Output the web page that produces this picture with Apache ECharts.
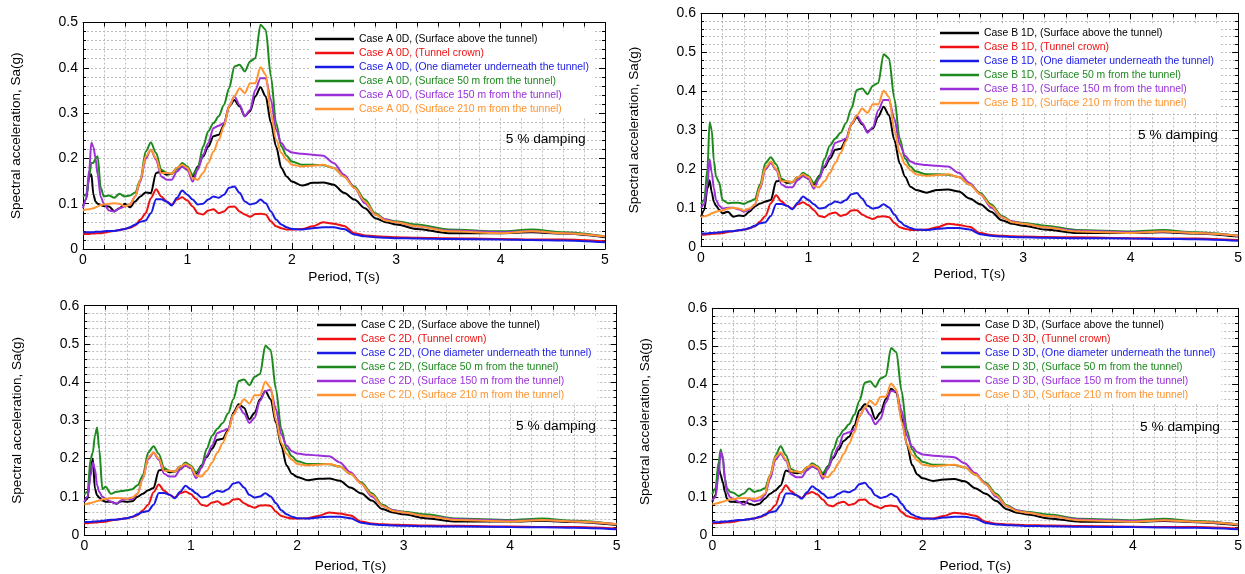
<!DOCTYPE html>
<html>
<head>
<meta charset="utf-8">
<script src="https://cdn.jsdelivr.net/npm/echarts@6/dist/echarts.min.js"></script>
<style>html,body{margin:0;padding:0;background:#fff;}#chart{width:1245px;height:574px;}</style>
</head>
<body>
<div id="chart"></div>
<script>
// ---------- DATA ----------
const periods = [0,0.03,0.06,0.08,0.1,0.12,0.14,0.17,0.2,0.25,0.3,0.35,0.4,0.45,0.5,0.55,0.6,0.65,0.7,0.75,0.8,0.85,0.9,0.95,1.0,1.05,1.1,1.15,1.2,1.25,1.3,1.35,1.4,1.45,1.5,1.55,1.6,1.65,1.7,1.75,1.8,1.85,1.9,1.95,2.0,2.1,2.2,2.3,2.4,2.5,2.6,2.7,2.8,2.9,3.0,3.2,3.5,4.0,4.3,4.6,5.0];

const caseNames = ['Case A 0D', 'Case B 1D', 'Case C 2D', 'Case D 3D'];
const locationNames = ['(Surface above the tunnel)', '(Tunnel crown)', '(One diameter underneath the tunnel)', '(Surface 50 m from the tunnel)', '(Surface 150 m from the tunnel)', '(Surface 210 m from the tunnel)'];
const yMaxByCase = [0.5, 0.6, 0.6, 0.6];
const dampingText = '5 % damping';
const xAxisTitle = 'Period, T(s)';
const yAxisTitle = 'Spectral acceleration, Sa(g)';

// Case A 0D
const A_surfaceAbove = [0.095,0.11,0.16,0.165,0.12,0.105,0.1,0.097,0.095,0.094,0.083,0.09,0.1,0.092,0.105,0.116,0.125,0.123,0.168,0.171,0.164,0.166,0.179,0.182,0.175,0.16,0.182,0.204,0.226,0.249,0.252,0.274,0.315,0.329,0.315,0.293,0.304,0.337,0.357,0.337,0.278,0.226,0.179,0.16,0.149,0.14,0.146,0.147,0.142,0.124,0.109,0.09,0.068,0.059,0.054,0.044,0.035,0.035,0.037,0.034,0.026];
const A_crown = [0.033,0.033,0.033,0.034,0.034,0.034,0.035,0.035,0.036,0.038,0.04,0.042,0.044,0.047,0.052,0.065,0.079,0.112,0.132,0.116,0.105,0.098,0.109,0.114,0.107,0.094,0.079,0.076,0.085,0.088,0.079,0.083,0.093,0.094,0.083,0.076,0.071,0.077,0.078,0.076,0.061,0.05,0.046,0.043,0.043,0.044,0.05,0.059,0.056,0.051,0.035,0.03,0.028,0.027,0.026,0.025,0.024,0.022,0.021,0.021,0.017];
const A_below = [0.037,0.037,0.037,0.037,0.037,0.038,0.038,0.038,0.039,0.04,0.04,0.042,0.044,0.048,0.054,0.06,0.063,0.079,0.11,0.11,0.105,0.096,0.113,0.129,0.12,0.109,0.098,0.1,0.109,0.116,0.113,0.12,0.135,0.138,0.124,0.105,0.098,0.101,0.109,0.101,0.083,0.065,0.054,0.048,0.044,0.043,0.046,0.048,0.048,0.044,0.032,0.028,0.026,0.025,0.024,0.023,0.022,0.021,0.02,0.019,0.015];
const A_50m = [0.116,0.12,0.16,0.19,0.19,0.2,0.205,0.135,0.116,0.118,0.113,0.122,0.116,0.118,0.125,0.153,0.215,0.235,0.212,0.175,0.168,0.166,0.176,0.19,0.182,0.164,0.179,0.226,0.26,0.278,0.293,0.318,0.355,0.403,0.407,0.392,0.414,0.421,0.495,0.484,0.381,0.278,0.226,0.206,0.193,0.186,0.186,0.185,0.179,0.16,0.138,0.109,0.079,0.065,0.061,0.054,0.043,0.039,0.043,0.037,0.028];
const A_150m = [0.09,0.11,0.175,0.235,0.225,0.2,0.165,0.115,0.1,0.085,0.083,0.09,0.094,0.098,0.116,0.149,0.199,0.219,0.197,0.16,0.153,0.153,0.171,0.182,0.175,0.149,0.175,0.208,0.234,0.267,0.272,0.278,0.315,0.337,0.318,0.293,0.307,0.351,0.377,0.377,0.329,0.263,0.234,0.219,0.213,0.21,0.208,0.206,0.19,0.164,0.135,0.101,0.076,0.065,0.059,0.05,0.041,0.037,0.039,0.035,0.028];
const A_210m = [0.085,0.087,0.088,0.089,0.09,0.092,0.094,0.097,0.098,0.1,0.101,0.1,0.094,0.098,0.116,0.153,0.204,0.219,0.2,0.168,0.168,0.166,0.179,0.186,0.179,0.156,0.153,0.168,0.19,0.215,0.241,0.271,0.315,0.337,0.355,0.344,0.366,0.366,0.401,0.385,0.3,0.241,0.212,0.197,0.186,0.182,0.184,0.186,0.179,0.16,0.135,0.105,0.076,0.063,0.059,0.05,0.039,0.035,0.039,0.035,0.028];

// Case B 1D
const B_surfaceAbove = [0.077,0.094,0.15,0.171,0.14,0.115,0.105,0.095,0.086,0.09,0.077,0.08,0.079,0.09,0.103,0.111,0.116,0.12,0.168,0.171,0.164,0.166,0.179,0.182,0.175,0.16,0.182,0.204,0.226,0.249,0.252,0.274,0.315,0.333,0.315,0.296,0.304,0.334,0.36,0.338,0.274,0.214,0.18,0.154,0.146,0.139,0.146,0.147,0.142,0.124,0.109,0.09,0.068,0.059,0.054,0.044,0.035,0.035,0.037,0.034,0.026];
const B_crown = [0.031,0.031,0.032,0.032,0.033,0.033,0.034,0.034,0.035,0.038,0.04,0.042,0.044,0.047,0.052,0.065,0.079,0.112,0.132,0.116,0.105,0.098,0.109,0.114,0.107,0.094,0.079,0.076,0.085,0.088,0.079,0.083,0.093,0.094,0.083,0.076,0.071,0.077,0.078,0.076,0.061,0.05,0.046,0.043,0.043,0.044,0.05,0.059,0.056,0.051,0.035,0.03,0.028,0.027,0.026,0.025,0.024,0.022,0.021,0.021,0.017];
const B_below = [0.034,0.034,0.034,0.035,0.035,0.036,0.036,0.037,0.038,0.04,0.04,0.042,0.044,0.048,0.054,0.06,0.063,0.079,0.11,0.11,0.105,0.096,0.113,0.129,0.12,0.109,0.098,0.1,0.109,0.116,0.113,0.12,0.135,0.138,0.124,0.105,0.098,0.101,0.109,0.101,0.083,0.065,0.054,0.048,0.044,0.043,0.046,0.048,0.048,0.044,0.032,0.028,0.026,0.025,0.024,0.023,0.022,0.021,0.02,0.019,0.015];
const B_50m = [0.11,0.12,0.2,0.32,0.3,0.22,0.18,0.165,0.12,0.112,0.113,0.113,0.11,0.116,0.122,0.16,0.215,0.23,0.212,0.175,0.168,0.166,0.176,0.19,0.182,0.164,0.179,0.226,0.26,0.278,0.293,0.318,0.355,0.403,0.407,0.392,0.414,0.421,0.495,0.484,0.381,0.278,0.226,0.206,0.193,0.186,0.186,0.185,0.179,0.16,0.138,0.109,0.079,0.065,0.061,0.054,0.043,0.039,0.043,0.037,0.028];
const B_150m = [0.1,0.11,0.16,0.225,0.19,0.15,0.12,0.105,0.098,0.1,0.1,0.096,0.09,0.095,0.108,0.149,0.199,0.215,0.197,0.16,0.153,0.153,0.171,0.182,0.175,0.149,0.175,0.208,0.234,0.267,0.272,0.278,0.315,0.337,0.318,0.293,0.307,0.351,0.377,0.377,0.329,0.263,0.234,0.219,0.213,0.21,0.208,0.206,0.19,0.164,0.135,0.101,0.076,0.065,0.059,0.05,0.041,0.037,0.039,0.035,0.028];
const B_210m = [0.077,0.078,0.08,0.083,0.086,0.088,0.09,0.092,0.093,0.098,0.1,0.098,0.093,0.098,0.108,0.153,0.204,0.219,0.2,0.168,0.168,0.166,0.179,0.186,0.179,0.156,0.153,0.168,0.19,0.215,0.241,0.271,0.315,0.337,0.355,0.344,0.366,0.366,0.401,0.385,0.3,0.241,0.212,0.197,0.186,0.182,0.184,0.186,0.179,0.16,0.135,0.105,0.076,0.063,0.059,0.05,0.039,0.035,0.039,0.035,0.028];

// Case C 2D
const C_surfaceAbove = [0.087,0.095,0.169,0.2,0.121,0.104,0.098,0.09,0.087,0.087,0.082,0.088,0.087,0.088,0.1,0.108,0.117,0.123,0.169,0.171,0.164,0.166,0.179,0.182,0.175,0.16,0.182,0.204,0.226,0.249,0.252,0.274,0.32,0.342,0.333,0.303,0.32,0.355,0.377,0.355,0.294,0.234,0.182,0.16,0.152,0.143,0.147,0.148,0.142,0.124,0.109,0.09,0.068,0.059,0.054,0.044,0.035,0.035,0.037,0.034,0.026];
const C_crown = [0.031,0.031,0.032,0.032,0.033,0.033,0.034,0.034,0.035,0.038,0.04,0.042,0.044,0.047,0.052,0.065,0.079,0.112,0.132,0.116,0.105,0.098,0.109,0.114,0.107,0.094,0.079,0.076,0.085,0.088,0.079,0.083,0.093,0.094,0.083,0.076,0.071,0.077,0.078,0.076,0.061,0.05,0.046,0.043,0.043,0.044,0.05,0.059,0.056,0.051,0.035,0.03,0.028,0.027,0.026,0.025,0.024,0.022,0.021,0.021,0.017];
const C_below = [0.034,0.034,0.034,0.035,0.035,0.036,0.036,0.037,0.038,0.04,0.04,0.042,0.044,0.048,0.054,0.06,0.063,0.079,0.11,0.11,0.105,0.096,0.113,0.129,0.12,0.109,0.098,0.1,0.109,0.116,0.113,0.12,0.135,0.138,0.124,0.105,0.098,0.101,0.109,0.101,0.083,0.065,0.054,0.048,0.044,0.043,0.046,0.048,0.048,0.044,0.032,0.028,0.026,0.025,0.024,0.023,0.022,0.021,0.02,0.019,0.015];
const C_50m = [0.106,0.113,0.2,0.216,0.26,0.281,0.225,0.12,0.126,0.108,0.113,0.115,0.117,0.12,0.13,0.156,0.216,0.232,0.212,0.175,0.168,0.166,0.176,0.19,0.182,0.164,0.179,0.226,0.26,0.278,0.293,0.318,0.355,0.403,0.407,0.392,0.414,0.421,0.495,0.484,0.381,0.278,0.226,0.206,0.193,0.186,0.186,0.185,0.179,0.16,0.138,0.109,0.079,0.065,0.061,0.054,0.043,0.039,0.043,0.037,0.028];
const C_150m = [0.087,0.1,0.156,0.19,0.173,0.13,0.113,0.1,0.095,0.087,0.082,0.091,0.095,0.094,0.108,0.149,0.199,0.215,0.197,0.16,0.153,0.153,0.171,0.182,0.175,0.149,0.175,0.208,0.234,0.267,0.272,0.278,0.315,0.337,0.318,0.293,0.307,0.351,0.377,0.38,0.329,0.263,0.234,0.219,0.213,0.21,0.208,0.206,0.19,0.164,0.135,0.101,0.076,0.065,0.059,0.05,0.041,0.037,0.039,0.035,0.028];
const C_210m = [0.08,0.082,0.084,0.085,0.087,0.089,0.09,0.093,0.095,0.096,0.097,0.096,0.095,0.098,0.108,0.147,0.203,0.216,0.2,0.168,0.168,0.166,0.179,0.186,0.179,0.156,0.153,0.168,0.19,0.215,0.241,0.271,0.315,0.337,0.355,0.344,0.366,0.366,0.401,0.385,0.3,0.241,0.212,0.197,0.186,0.182,0.184,0.186,0.179,0.16,0.135,0.105,0.076,0.063,0.059,0.05,0.039,0.035,0.039,0.035,0.028];

// Case D 3D
const D_surfaceAbove = [0.088,0.105,0.18,0.158,0.14,0.114,0.096,0.088,0.088,0.087,0.088,0.083,0.079,0.083,0.096,0.109,0.118,0.131,0.171,0.166,0.164,0.166,0.179,0.182,0.175,0.16,0.182,0.204,0.226,0.249,0.26,0.29,0.33,0.346,0.34,0.307,0.324,0.36,0.387,0.377,0.31,0.24,0.185,0.16,0.15,0.143,0.147,0.148,0.142,0.124,0.109,0.09,0.068,0.059,0.054,0.044,0.035,0.035,0.037,0.034,0.026];
const D_crown = [0.031,0.031,0.032,0.032,0.033,0.033,0.034,0.034,0.035,0.038,0.04,0.042,0.044,0.047,0.052,0.065,0.079,0.112,0.132,0.116,0.105,0.098,0.109,0.114,0.107,0.094,0.079,0.076,0.085,0.088,0.079,0.083,0.093,0.094,0.083,0.076,0.071,0.077,0.078,0.076,0.061,0.05,0.046,0.043,0.043,0.044,0.05,0.059,0.056,0.051,0.035,0.03,0.028,0.027,0.026,0.025,0.024,0.022,0.021,0.021,0.017];
const D_below = [0.034,0.034,0.034,0.035,0.035,0.036,0.036,0.037,0.038,0.04,0.04,0.042,0.044,0.048,0.054,0.06,0.063,0.079,0.11,0.11,0.105,0.096,0.113,0.129,0.12,0.109,0.098,0.1,0.109,0.116,0.113,0.12,0.135,0.138,0.124,0.105,0.098,0.101,0.109,0.101,0.083,0.065,0.054,0.048,0.044,0.043,0.046,0.048,0.048,0.044,0.032,0.028,0.026,0.025,0.024,0.023,0.022,0.021,0.02,0.019,0.015];
const D_50m = [0.108,0.123,0.193,0.226,0.2,0.149,0.123,0.114,0.112,0.103,0.11,0.123,0.114,0.118,0.124,0.158,0.21,0.235,0.212,0.175,0.168,0.166,0.176,0.19,0.182,0.164,0.179,0.226,0.26,0.278,0.293,0.318,0.355,0.403,0.407,0.392,0.414,0.421,0.495,0.484,0.381,0.278,0.226,0.206,0.193,0.186,0.186,0.185,0.179,0.16,0.138,0.109,0.079,0.065,0.061,0.054,0.043,0.039,0.043,0.037,0.028];
const D_150m = [0.092,0.1,0.158,0.219,0.21,0.149,0.114,0.1,0.095,0.088,0.08,0.095,0.089,0.092,0.105,0.149,0.199,0.215,0.197,0.16,0.153,0.153,0.171,0.182,0.175,0.149,0.175,0.208,0.234,0.267,0.272,0.278,0.315,0.337,0.318,0.293,0.307,0.351,0.381,0.38,0.329,0.263,0.234,0.219,0.213,0.21,0.208,0.206,0.19,0.164,0.135,0.101,0.076,0.065,0.059,0.05,0.041,0.037,0.039,0.035,0.028];
const D_210m = [0.081,0.083,0.085,0.087,0.088,0.09,0.092,0.094,0.095,0.097,0.098,0.097,0.095,0.1,0.109,0.158,0.206,0.219,0.2,0.168,0.168,0.166,0.179,0.186,0.179,0.156,0.153,0.168,0.19,0.215,0.241,0.271,0.315,0.337,0.355,0.344,0.366,0.366,0.401,0.385,0.3,0.241,0.212,0.197,0.186,0.182,0.184,0.186,0.179,0.16,0.135,0.105,0.076,0.063,0.059,0.05,0.039,0.035,0.039,0.035,0.028];

const seriesByCase = [
  [A_surfaceAbove, A_crown, A_below, A_50m, A_150m, A_210m],
  [B_surfaceAbove, B_crown, B_below, B_50m, B_150m, B_210m],
  [C_surfaceAbove, C_crown, C_below, C_50m, C_150m, C_210m],
  [D_surfaceAbove, D_crown, D_below, D_50m, D_150m, D_210m]
];

// ---------- STYLE / LAYOUT ----------
const colors = ['#000000', '#ee1111', '#1a1ae6', '#1e8a1e', '#9b30d9', '#ff9430'];
const FONT = '"Liberation Sans", Arial, Helvetica, sans-serif';
const grids = [
  {left: 83, top: 22.5, width: 522, height: 226.5},
  {left: 701, top: 13.3, width: 540, height: 233.4},
  {left: 84.3, top: 305.7, width: 532.4, height: 231},
  {left: 712.3, top: 308.3, width: 529.4, height: 228.4}
];
const legendPos = [
  {left: 311, top: 31},
  {left: 936, top: 25},
  {left: 313, top: 317},
  {left: 937, top: 317}
];
const xNameGap = [21, 21, 24, 24];
const dampingPos = [[545.7, 139.3], [1178, 135], [556, 426], [1180, 427.3]];

const gridLine = {color: '#bdbdbd', width: 1, type: [2, 2]};
const blackLine = {color: '#000', width: 1};

const option = {
  animation: false,
  backgroundColor: '#fff',
  textStyle: {fontFamily: FONT},
  grid: grids.map(g => Object.assign({containLabel: false}, g)),
  xAxis: [], yAxis: [], series: [], legend: [], graphic: []
};

for (let i = 0; i < 4; i++) {
  option.xAxis.push({
    gridIndex: i, type: 'value', min: 0, max: 5, interval: 1, position: 'bottom',
    axisLine: {show: true, onZero: false, lineStyle: blackLine},
    axisTick: {show: true, inside: true, length: 6, lineStyle: blackLine},
    minorTick: {show: true, splitNumber: 5, length: 4, lineStyle: blackLine},
    axisLabel: {show: true, fontSize: 14, color: '#000', margin: 4, fontFamily: FONT},
    splitLine: {show: true, lineStyle: gridLine},
    minorSplitLine: {show: true, lineStyle: gridLine},
    name: xAxisTitle, nameLocation: 'middle', nameGap: xNameGap[i],
    nameTextStyle: {fontSize: 13.7, color: '#000', fontFamily: FONT}
  });
  option.xAxis.push({
    gridIndex: i, type: 'value', min: 0, max: 5, interval: 1, position: 'top',
    axisLine: {show: true, onZero: false, lineStyle: blackLine},
    axisTick: {show: true, inside: true, length: 6, lineStyle: blackLine},
    minorTick: {show: true, splitNumber: 5, length: 4, lineStyle: blackLine},
    axisLabel: {show: false}, splitLine: {show: false}
  });
  option.yAxis.push({
    gridIndex: i, type: 'value', min: 0, max: yMaxByCase[i], interval: 0.1, position: 'left',
    axisLine: {show: true, onZero: false, lineStyle: blackLine},
    axisTick: {show: true, inside: true, length: 6, lineStyle: blackLine},
    minorTick: {show: true, splitNumber: 5, length: 3, lineStyle: blackLine},
    axisLabel: {show: true, fontSize: 14, color: '#000', margin: 5, fontFamily: FONT,
      formatter: v => (v === 0 ? '0' : v.toFixed(1))},
    splitLine: {show: true, lineStyle: gridLine},
    minorSplitLine: {show: true, lineStyle: gridLine},
    name: yAxisTitle, nameLocation: 'middle', nameRotate: 90, nameGap: 60,
    nameTextStyle: {fontSize: 13.5, color: '#000', fontFamily: FONT}
  });
  option.yAxis.push({
    gridIndex: i, type: 'value', min: 0, max: yMaxByCase[i], interval: 0.1, position: 'right',
    axisLine: {show: true, onZero: false, lineStyle: blackLine},
    axisTick: {show: true, inside: true, length: 6, lineStyle: blackLine},
    minorTick: {show: true, splitNumber: 5, length: 3, lineStyle: blackLine},
    axisLabel: {show: false}, splitLine: {show: false}
  });

  const names = locationNames.map(l => caseNames[i] + ', ' + l);
  seriesByCase[i].forEach((vals, j) => {
    option.series.push({
      name: names[j], type: 'line', xAxisIndex: 2 * i, yAxisIndex: 2 * i,
      data: periods.map((t, k) => [t, vals[k]]),
      showSymbol: false, symbol: 'none', smooth: 0.3, smoothMonotone: 'x',
      color: colors[j],
      lineStyle: {color: colors[j], width: 2},
      itemStyle: {color: colors[j]},
      z: 3 + j
    });
  });

  option.legend.push({
    orient: 'vertical', left: legendPos[i].left, top: legendPos[i].top,
    itemWidth: 39, itemHeight: 12, itemGap: 2,
    padding: [2, 6, 2, 4], backgroundColor: '#fff',
    itemStyle: {borderWidth: 0},
    selectedMode: false,
    textStyle: {fontSize: 10.4, fontFamily: FONT, lineHeight: 12},
    data: names.map((n, j) => ({
      name: n, icon: 'path://M0,0H40V2.4H0Z',
      textStyle: {color: colors[j], fontSize: 10.4, fontFamily: FONT}
    }))
  });

  option.graphic.push({
    type: 'text', x: dampingPos[i][0], y: dampingPos[i][1], z: 10,
    style: {text: dampingText, fontSize: 13.7, fontFamily: FONT, fill: '#000',
      align: 'center', verticalAlign: 'middle'}
  });
}

const chart = echarts.init(document.getElementById('chart'), null, {renderer: 'canvas'});
chart.setOption(option);
</script>
</body>
</html>
